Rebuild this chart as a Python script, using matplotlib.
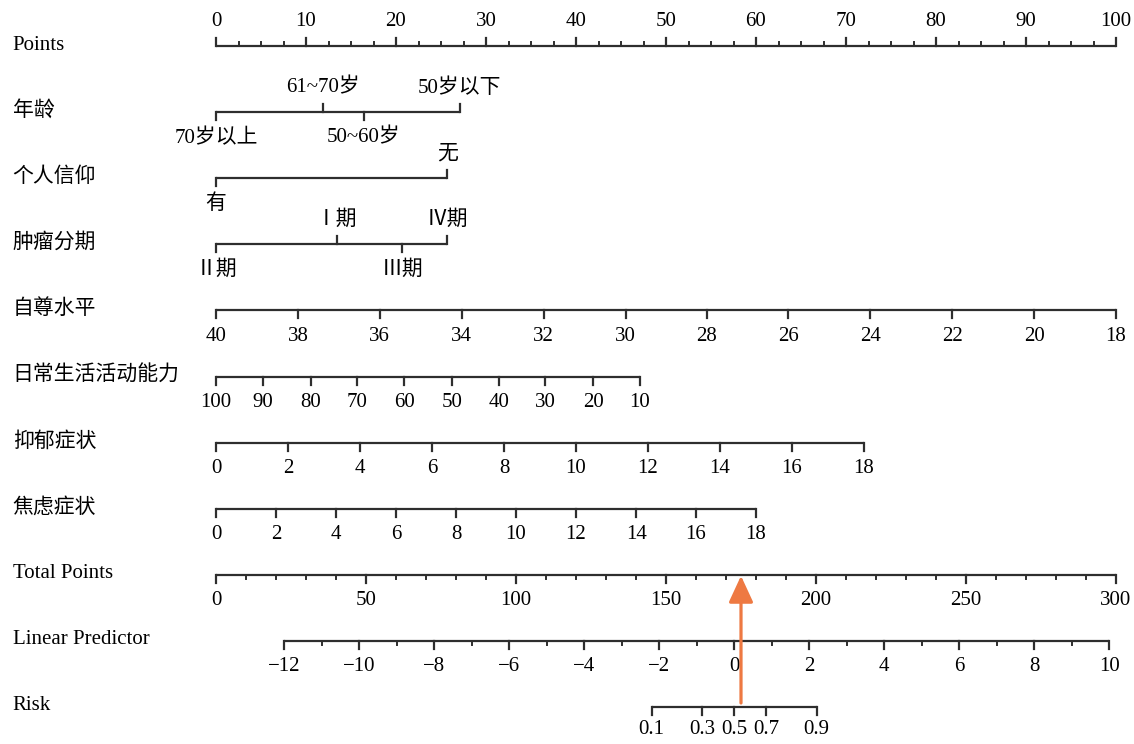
import numpy as np
import matplotlib.pyplot as plt

plt.rcParams['font.family'] = ['Liberation Serif', 'Noto Sans CJK SC']

# values (positions in "Points" units, 0-100)
points_ticks = list(range(0, 101, 10))

age_labels = ["70岁以上", "61~70岁", "50~60岁", "50岁以下"]
age_points = [0, 11.9, 16.4, 27.1]
age_above = [False, True, False, True]

belief_labels = ["有", "无"]
belief_points = [0, 25.7]
belief_above = [False, True]

stage_labels = ["Ⅱ期", "Ⅰ期", "Ⅲ期", "Ⅳ期"]
stage_points = [0, 13.4, 20.7, 25.7]
stage_above = [False, True, False, True]

esteem_ticks = [40, 38, 36, 34, 32, 30, 28, 26, 24, 22, 20, 18]
esteem_points = [0, 9.1, 18.2, 27.3, 36.4, 45.5, 54.5, 63.6, 72.7, 81.8, 90.9, 100]

adl_ticks = [100, 90, 80, 70, 60, 50, 40, 30, 20, 10]
adl_points = [0, 5.2, 10.5, 15.7, 20.9, 26.2, 31.4, 36.6, 41.9, 47.1]

dep_ticks = [0, 2, 4, 6, 8, 10, 12, 14, 16, 18]
dep_points = [0, 8, 16, 24, 32, 40, 48, 56, 64, 72]

anx_ticks = [0, 2, 4, 6, 8, 10, 12, 14, 16, 18]
anx_points = [0, 6.7, 13.3, 20, 26.7, 33.3, 40, 46.7, 53.3, 60]

# bottom scales in total points (0-300)
total_ticks = [0, 50, 100, 150, 200, 250, 300]
lp_ticks = [-12, -10, -8, -6, -4, -2, 0, 2, 4, 6, 8, 10]
lp_total = [22.7, 47.7, 72.7, 97.7, 122.7, 147.7, 172.7, 197.7, 222.7, 247.7, 272.7, 297.7]
risk_ticks = [0.1, 0.3, 0.5, 0.7, 0.9]
risk_total = [145.2, 162.1, 172.7, 183.3, 200.2]
arrow_total = 175

row_names = ["Points", "年龄", "个人信仰", "肿瘤分期", "自尊水平", "日常生活活动能力",
             "抑郁症状", "焦虑症状", "Total Points", "Linear Predictor", "Risk"]

LINE = "#2e2e2e"
FS = 15
TP = 100 / 300  # total points -> points

fig = plt.figure(figsize=(11.34, 7.44), dpi=100)
ax = fig.add_axes([0, 0, 1, 1])
ax.set_xlim(-24, 102)
ax.set_ylim(744, 0)
ax.axis("off")

row_y = [46 + 66.1 * i for i in range(len(row_names))]


def draw_row(y, xs, labels, above, minor=(), off=26):
    ax.plot([min(xs), max(xs)], [y, y], color=LINE, lw=1.6, solid_capstyle="butt")
    for x, lab, up in zip(xs, labels, above):
        d = -8 if up else 8
        ax.plot([x, x], [y, y + d], color=LINE, lw=1.6)
        ax.text(x, y + (-24 if up else off), lab, ha="center", va="center", fontsize=FS)
    for x in minor:
        d = -4.5 if above[0] else 4.5
        ax.plot([x, x], [y, y + d], color=LINE, lw=1.4)


for name, y in zip(row_names, row_y):
    ax.text(-22.6, y - 1, name, ha="left", va="center", fontsize=FS)

draw_row(row_y[0], points_ticks, [str(v) for v in points_ticks], [True] * 11,
         minor=[v for v in np.arange(0, 100, 2.5) if v % 10])
draw_row(row_y[1], age_points, age_labels, age_above)
draw_row(row_y[2], belief_points, belief_labels, belief_above)
draw_row(row_y[3], stage_points, stage_labels, stage_above)
draw_row(row_y[4], esteem_points, [str(v) for v in esteem_ticks], [False] * 12)
draw_row(row_y[5], adl_points, [str(v) for v in adl_ticks], [False] * 10)
draw_row(row_y[6], dep_points, [str(v) for v in dep_ticks], [False] * 10)
draw_row(row_y[7], anx_points, [str(v) for v in anx_ticks], [False] * 10)

draw_row(row_y[8], [t * TP for t in total_ticks], [str(v) for v in total_ticks], [False] * 7,
         minor=[v * TP for v in range(0, 300, 10) if v % 50])
lp_x = [t * TP for t in lp_total]
draw_row(row_y[9], lp_x, ["\u2212" + str(-v) if v < 0 else str(v) for v in lp_ticks],
         [False] * 12, minor=[(a + b) / 2 for a, b in zip(lp_x[:-1], lp_x[1:])])
draw_row(row_y[10], [t * TP for t in risk_total], [str(v) for v in risk_ticks], [False] * 5,
         off=23)

ax.annotate("", xy=(arrow_total * TP, row_y[8] + 1), xytext=(arrow_total * TP, row_y[10] - 4),
            arrowprops=dict(arrowstyle="-|>,head_length=0.65,head_width=0.3",
                            color="#EE7942", lw=2.3, mutation_scale=25,
                            shrinkA=0, shrinkB=0))

fig.savefig("out.png", dpi=100)
